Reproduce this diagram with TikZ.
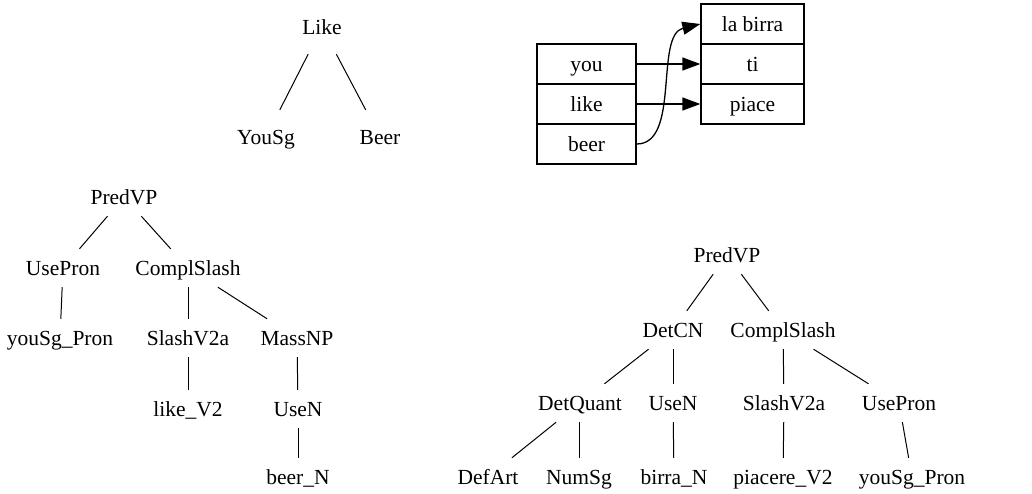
\documentclass[tikz,border=0pt]{standalone}
\usepackage{fontspec}
\setmainfont{Liberation Serif}
\usetikzlibrary{arrows.meta}
\begin{document}
\begin{tikzpicture}[x=1pt,y=-1pt,
  every node/.style={font=\fontsize{21.5}{25}\selectfont, inner sep=0pt, text height=17pt, text depth=2pt},
  lbl/.style={minimum height=38pt},
  big/.style={minimum height=54pt},
  cell/.style={draw, line width=1.3pt, minimum height=40pt},
  lcell/.style={cell, minimum width=99pt},
  rcell/.style={cell, minimum width=103pt},
  edge/.style={line width=1pt},
  arr/.style={line width=1.3pt, -{Triangle[length=18pt,width=13pt]}}
]
\useasboundingbox (0,0) rectangle (1032,493);

% Tree 1
\node[big] (like) at (322,27) {Like};
\node[big] (yousg) at (266,137) {YouSg};
\node[big] (beer1) at (380,137) {Beer};
\draw[edge] (like) -- (yousg);
\draw[edge] (like) -- (beer1);

% Alignment
\node[lcell] (you) at (586.5,64) {you};
\node[lcell] (likew) at (586.5,104) {like};
\node[lcell] (beer) at (586.5,144) {beer};
\node[rcell] (labirra) at (752.5,24) {la birra};
\node[rcell] (ti) at (752.5,64) {ti};
\node[rcell] (piace) at (752.5,104) {piace};
\draw[arr] (you.east) -- (ti.west);
\draw[arr] (likew.east) -- (piace.west);
\draw[arr] (beer.east) .. controls +(44,0) and +(-46,11) .. (labirra.west);

% Tree 2 (left)
\node[lbl] (a0) at (124,197) {PredVP};
\node[lbl] (a1) at (63,268) {UsePron};
\node[lbl] (a2) at (188,268) {ComplSlash};
\node[lbl] (a3) at (60,338) {youSg\_Pron};
\node[lbl] (a4) at (188,338) {SlashV2a};
\node[lbl] (a5) at (297,338) {MassNP};
\node[lbl] (a6) at (188,409) {like\_V2};
\node[lbl] (a7) at (298,409) {UseN};
\node[lbl] (a8) at (298,477) {beer\_N};
\draw[edge] (a0) -- (a1);
\draw[edge] (a0) -- (a2);
\draw[edge] (a1) -- (a3);
\draw[edge] (a2) -- (a4);
\draw[edge] (a2) -- (a5);
\draw[edge] (a4) -- (a6);
\draw[edge] (a5) -- (a7);
\draw[edge] (a7) -- (a8);

% Tree 3 (right)
\node[lbl] (b0) at (727,255) {PredVP};
\node[lbl] (b1) at (673,330) {DetCN};
\node[lbl] (b2) at (783,330) {ComplSlash};
\node[lbl] (b3) at (580,403) {DetQuant};
\node[lbl] (b4) at (673,403) {UseN};
\node[lbl] (b5) at (784,403) {SlashV2a};
\node[lbl] (b6) at (899,403) {UsePron};
\node[lbl] (b7) at (488,477) {DefArt};
\node[lbl] (b8) at (579,477) {NumSg};
\node[lbl] (b9) at (674,477) {birra\_N};
\node[lbl] (b10) at (783,477) {piacere\_V2};
\node[lbl] (b11) at (912,477) {youSg\_Pron};
\draw[edge] (b0) -- (b1);
\draw[edge] (b0) -- (b2);
\draw[edge] (b1) -- (b3);
\draw[edge] (b1) -- (b4);
\draw[edge] (b2) -- (b5);
\draw[edge] (b2) -- (b6);
\draw[edge] (b3) -- (b7);
\draw[edge] (b3.south -| b8) -- (b8);
\draw[edge] (b4) -- (b9);
\draw[edge] (b5) -- (b10);
\draw[edge] (b6) -- (b11);
\end{tikzpicture}
\end{document}
